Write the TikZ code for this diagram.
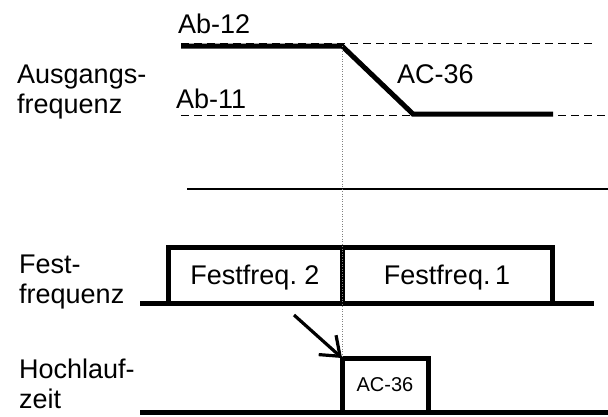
\documentclass[tikz,border=0pt]{standalone}
\usepackage{fontspec}
\setmainfont{Liberation Sans}
\usetikzlibrary{positioning,arrows.meta}
\frenchspacing
\begin{document}
\begin{tikzpicture}[x=1pt, y=-1pt,
	font=\fontsize{27}{30}\selectfont,
	signal/.style={line width=5pt},
	level/.style={dash pattern=on 8pt off 5pt, line width=1pt},
	fbox/.style={draw, line width=5pt, outer sep=0pt, inner sep=0pt, text depth=0pt},
	sidetext/.style={anchor=base west, align=left, inner sep=0pt}]
	\useasboundingbox (0,0) rectangle (608,416);
	\node[sidetext] (Aus) at (17,113) {Ausgangs-\\frequenz};
	\node[sidetext] (Fest) at (19,303) {Fest-\\frequenz};
	\node[sidetext] (Hoch) at (19,408) {Hochlauf-\\zeit};
	\node[sidetext] (Ab12) at (178,33) {Ab-12};
	\node[sidetext] (Ab11) at (176,108) {Ab-11};
	\node[sidetext] (Rampe) at (397,83) {AC-36};
	\draw[level] (181,43)--(593,43);
	\draw[level] (181,115)--(608,115);
	\draw[signal] (181,46)--(342,46)--(413,114)--(553,114);
	\draw[line width=1.2pt] (187,189)--(608,189);
	\node[fbox, minimum width=174pt, minimum height=56pt, anchor=south west] (FF2) at (168,303) {Festfreq. 2};
	\node[fbox, minimum width=210pt, minimum height=56pt, right=0pt of FF2] (FF1) {Festfreq.\,1};
	\node[fbox, minimum width=86pt, minimum height=54pt, anchor=south west, font=\fontsize{20}{24}\selectfont] (Hl) at (342,412) {AC-36};
	\draw[signal] (140,303)--(594,303);
	\draw[signal] (140,412)--(608,412);
	\coordinate (Start) at (342,46);
	\coordinate (Pfeil) at (294,315);
	\draw[gray, line width=1pt, dash pattern=on 1pt off 1.5pt] (Start)--(Hl.north west);
	\draw[line width=3.2pt, -{Straight Barb[length=17pt, width=26pt]}] (Pfeil)--(Hl.north west);
\end{tikzpicture}
\end{document}
